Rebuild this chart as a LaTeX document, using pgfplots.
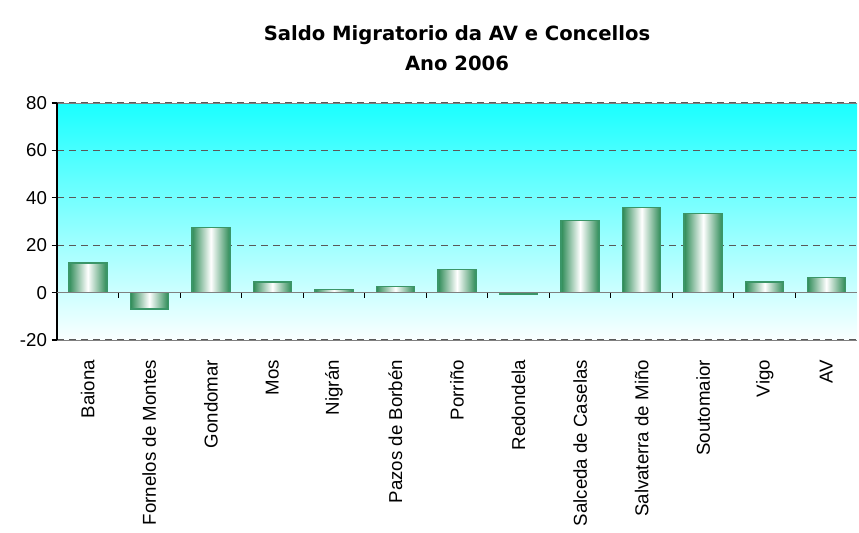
\documentclass[border=0pt]{standalone}
\usepackage{pgfplots}
\pgfplotsset{compat=1.18}
\usepackage{fontspec}
\setmainfont{Liberation Sans}
\newfontfamily\titlefont{DejaVu Sans}
\definecolor{bargreen}{RGB}{46,139,87}
\definecolor{barline}{RGB}{58,150,104}
\definecolor{skytop}{RGB}{26,255,255}
\definecolor{skymid}{RGB}{190,255,255}
\definecolor{skybot}{RGB}{250,255,255}
\pgfplotsset{cyl/.style={ybar, bar width=28.5pt, bar shift=0pt, forget plot,
    draw=barline, line width=1.1pt,
    left color=bargreen, right color=bargreen, middle color=white}}
\begin{document}
\begin{tikzpicture}
\begin{axis}[
    width=600pt, height=177.75pt, scale only axis,
    xmin=-0.5, xmax=12.5,
    ymin=-20, ymax=80,
    axis x line*=box, axis y line*=left,
    x axis line style={draw=gray},
    y axis line style={draw=black, line width=0.8pt},
    axis background/.style={top color=skytop, middle color=skymid, bottom color=skybot},
    xtick={0,...,12},
    xticklabels={Baiona,Fornelos de Montes,Gondomar,Mos,Nigrán,Pazos de Borbén,Porriño,Redondela,Salceda de Caselas,Salvaterra de Miño,Soutomaior,Vigo,AV},
    x tick style={draw=none},
    xticklabel style={rotate=90, anchor=east, xshift=-7.5pt},
    ytick={-20,0,20,40,60,80},
    yticklabels={-20,0,20,40,60,80},
    y tick style={black, line width=0.8pt},
    tick align=outside,
    major tick length=4pt,
    tick label style={font=\fontsize{14}{16}\selectfont},
    ymajorgrids,
    grid style={black!65, line width=0.9pt, dash pattern=on 5pt off 4pt},
    title={Saldo Migratorio da AV e Concellos\\Ano 2006},
    title style={align=center, font=\titlefont\bfseries\fontsize{14.7}{22.5}\selectfont,
        at={(0.5,1)}, anchor=south, yshift=14.5pt},
]
\addplot[cyl] coordinates {(0,12.5)};
\addplot[cyl] coordinates {(1,-7)};
\addplot[cyl] coordinates {(2,27.5)};
\addplot[cyl] coordinates {(3,4.5)};
\addplot[cyl] coordinates {(4,1.3)};
\addplot[cyl] coordinates {(5,2.5)};
\addplot[cyl] coordinates {(6,9.7)};
\addplot[cyl] coordinates {(7,-0.6)};
\addplot[cyl] coordinates {(8,30.4)};
\addplot[cyl] coordinates {(9,36)};
\addplot[cyl] coordinates {(10,33.4)};
\addplot[cyl] coordinates {(11,4.5)};
\addplot[cyl] coordinates {(12,6.3)};
\draw[gray, line width=1pt] (axis cs:-0.5,0) -- (axis cs:12.5,0);
\pgfplotsinvokeforeach{-0.5,0.5,1.5,2.5,3.5,4.5,5.5,6.5,7.5,8.5,9.5,10.5,11.5}{
    \draw[black, line width=0.8pt] (axis cs:#1,0) -- ([yshift=-4pt]axis cs:#1,0);
}
\coordinate (ll) at (rel axis cs:0,0);
\end{axis}
\pgfresetboundingbox
\path[use as bounding box] ([xshift=-42.75pt,yshift=-144pt]ll) rectangle ([xshift=601.5pt,yshift=255pt]ll);
\end{tikzpicture}
\end{document}
